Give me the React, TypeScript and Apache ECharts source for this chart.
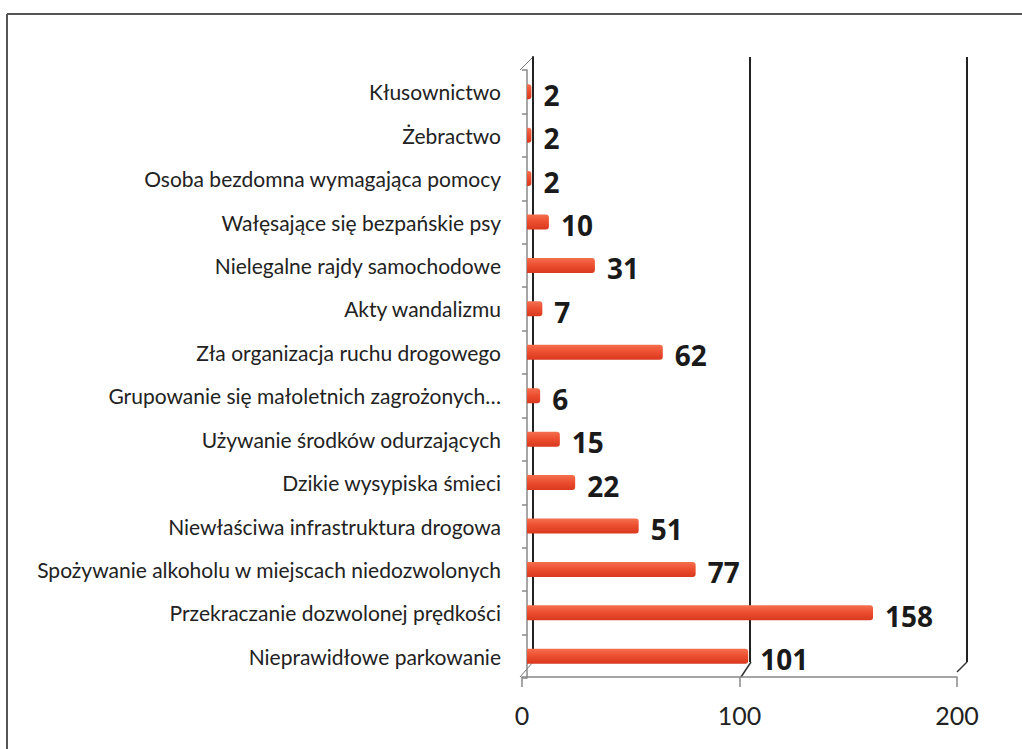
import React, { useEffect, useRef } from "react";
import * as echarts from "echarts";

const categories = [
  "Kłusownictwo",
  "Żebractwo",
  "Osoba bezdomna wymagająca pomocy",
  "Wałęsające się bezpańskie psy",
  "Nielegalne rajdy samochodowe",
  "Akty wandalizmu",
  "Zła organizacja ruchu drogowego",
  "Grupowanie się małoletnich zagrożonych…",
  "Używanie środków odurzających",
  "Dzikie wysypiska śmieci",
  "Niewłaściwa infrastruktura drogowa",
  "Spożywanie alkoholu w miejscach niedozwolonych",
  "Przekraczanie dozwolonej prędkości",
  "Nieprawidłowe parkowanie",
];
const values = [2, 2, 2, 10, 31, 7, 62, 6, 15, 22, 51, 77, 158, 101];
const axisMin = 0;
const axisMax = 200;
const axisStep = 100;

export default function App() {
  const ref = useRef<HTMLDivElement>(null);
  useEffect(() => {
    document.body.style.margin = "0";
    const chart = echarts.init(ref.current!, null, { renderer: "svg" });
    const font = "Lato, 'Open Sans', sans-serif";
    chart.setOption({
      animation: false,
      backgroundColor: "#ffffff",
      graphic: [
        { type: "line", shape: { x1: 7, y1: 14, x2: 1022, y2: 14 }, style: { stroke: "#555", lineWidth: 2 } },
        { type: "line", shape: { x1: 7, y1: 14, x2: 7, y2: 749 }, style: { stroke: "#555", lineWidth: 2 } },
        { type: "line", shape: { x1: 520, y1: 70, x2: 533, y2: 57 }, style: { stroke: "#777", lineWidth: 1 } },
        { type: "line", shape: { x1: 520, y1: 677, x2: 533, y2: 662 }, style: { stroke: "#777", lineWidth: 1 } },
        { type: "line", shape: { x1: 741, y1: 677, x2: 751, y2: 662 }, style: { stroke: "#333", lineWidth: 1.5 } },
        { type: "line", shape: { x1: 957, y1: 672, x2: 967, y2: 662 }, style: { stroke: "#333", lineWidth: 1.5 } },
      ],
      grid: [
        { left: 527, right: 1022 - 965, top: 70, bottom: 749 - 678 },
        { left: 522, right: 1022 - 957, top: 600, bottom: 749 - 677 },
        { left: 533, right: 1022 - 967, top: 57, bottom: 749 - 662 },
      ],
      xAxis: [
        {
          gridIndex: 0, type: "value", min: axisMin, max: axisMax, interval: axisStep,
          axisLine: { show: false }, axisTick: { show: false }, axisLabel: { show: false }, splitLine: { show: false },
        },
        {
          gridIndex: 1, type: "value", min: axisMin, max: axisMax, interval: axisStep,
          axisLine: { show: true, lineStyle: { color: "#888", width: 1.5 } },
          axisTick: { show: true, length: 10, lineStyle: { color: "#888", width: 1.5 } },
          axisLabel: { show: true, fontFamily: font, fontSize: 25, color: "#222", margin: 25 },
          splitLine: { show: false },
        },
        {
          gridIndex: 2, type: "value", min: axisMin, max: axisMax, interval: axisStep,
          axisLine: { show: false }, axisTick: { show: false }, axisLabel: { show: false },
          splitLine: { show: true, lineStyle: { color: "#222", width: 2 } },
        },
      ],
      yAxis: [
        {
          gridIndex: 0, type: "category", data: categories, inverse: true, offset: 7,
          axisLine: { show: true, lineStyle: { color: "#888", width: 1.5 } },
          axisTick: { show: true, length: 5, lineStyle: { color: "#888", width: 1.5 } },
          axisLabel: { fontFamily: font, fontSize: 21, color: "#222", margin: 19 },
        },
        {
          gridIndex: 1, type: "category", data: [""], show: false,
        },
        {
          gridIndex: 2, type: "category", data: [""],
          axisLine: { show: true, lineStyle: { color: "#222", width: 2 } },
          axisTick: { show: false }, axisLabel: { show: false },
        },
      ],
      series: [
        {
          type: "bar",
          xAxisIndex: 0,
          yAxisIndex: 0,
          data: values,
          barWidth: 15,
          itemStyle: {
            color: new echarts.graphic.LinearGradient(0, 0, 0, 1, [
              { offset: 0, color: "#f4704f" },
              { offset: 0.5, color: "#eb4d2e" },
              { offset: 1, color: "#d9391e" },
            ]),
            borderRadius: [0, 3, 3, 0],
          },
          label: {
            show: true,
            position: "right",
            distance: 12,
            fontFamily: "'Open Sans', sans-serif",
            fontWeight: "bold",
            fontSize: 28,
            color: "#1a1a1a",
            offset: [0, 3],
          },
        },
      ],
    });
    return () => chart.dispose();
  }, []);
  return <div ref={ref} style={{ width: 1022, height: 749 }} />;
}
